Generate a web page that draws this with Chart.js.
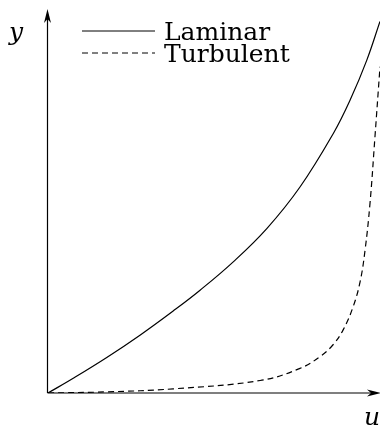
<!DOCTYPE html>
<html>
<head>
<meta charset="utf-8">
<script src="https://cdn.jsdelivr.net/npm/chart.js@4"></script>
<style>
  html, body { margin: 0; padding: 0; background: #fff; }
  canvas { display: block; }
</style>
</head>
<body>
<canvas id="chart" width="380" height="428"></canvas>
<script>
// series labels
const seriesNames = ['Laminar', 'Turbulent'];

// laminar profile (u, y)
const laminarU = [0, 0.076, 0.177, 0.277, 0.377, 0.458, 0.558, 0.659, 0.759, 0.859, 0.910, 0.960, 1.0];
const laminarY = [0, 0.039, 0.094, 0.153, 0.217, 0.272, 0.347, 0.435, 0.545, 0.686, 0.775, 0.880, 0.983];

// turbulent profile (u, y)
const turbulentU = [0, 0.178, 0.377, 0.639, 0.759, 0.819, 0.858, 0.889, 0.919, 0.940, 0.955, 0.970, 0.985, 1.0];
const turbulentY = [0, 0.003, 0.011, 0.033, 0.065, 0.096, 0.127, 0.167, 0.228, 0.294, 0.378, 0.503, 0.680, 0.863];

// axis labels
const xLabel = 'u';
const yLabel = 'y';

const toPoints = (xs, ys) => xs.map((x, i) => ({ x: x, y: ys[i] }));

const DASH = [6, 4];

// axes with arrow heads, axis names and the legend in the upper left
const axesPlugin = {
  id: 'axesPlugin',
  afterDraw(chart) {
    const ctx = chart.ctx;
    const a = chart.chartArea;
    const ox = a.left - 0.5;
    const oy = a.bottom;
    ctx.save();
    ctx.strokeStyle = '#000';
    ctx.fillStyle = '#000';
    ctx.lineWidth = 1.2;
    ctx.setLineDash([]);

    // y axis
    ctx.beginPath();
    ctx.moveTo(ox, oy);
    ctx.lineTo(ox, 14);
    ctx.stroke();
    ctx.beginPath();
    ctx.moveTo(ox, 9);
    ctx.lineTo(ox - 3.5, 23);
    ctx.lineTo(ox, 19);
    ctx.lineTo(ox + 3.5, 23);
    ctx.closePath();
    ctx.fill();

    // x axis
    ctx.beginPath();
    ctx.moveTo(ox, oy);
    ctx.lineTo(375, oy);
    ctx.stroke();
    ctx.beginPath();
    ctx.moveTo(381, oy);
    ctx.lineTo(367, oy - 3.5);
    ctx.lineTo(371, oy);
    ctx.lineTo(367, oy + 3.5);
    ctx.closePath();
    ctx.fill();

    // axis names
    ctx.font = 'italic 25px "DejaVu Serif"';
    ctx.textBaseline = 'alphabetic';
    ctx.textAlign = 'center';
    ctx.fillText(yLabel, 16, 40);
    ctx.fillText(xLabel, 372, 425);

    // legend
    const rows = [31, 53];
    ctx.font = '25px "DejaVu Serif"';
    ctx.textAlign = 'left';
    chart.data.datasets.forEach((ds, i) => {
      ctx.lineWidth = 1;
      ctx.setLineDash(ds.borderDash || []);
      ctx.beginPath();
      ctx.moveTo(82, rows[i]);
      ctx.lineTo(155, rows[i]);
      ctx.stroke();
      ctx.setLineDash([]);
      ctx.fillText(ds.label, 164, rows[i] + 9);
    });
    ctx.restore();
  }
};

new Chart(document.getElementById('chart'), {
  type: 'scatter',
  data: {
    datasets: [
      {
        label: seriesNames[0],
        data: toPoints(laminarU, laminarY),
        showLine: true,
        borderColor: '#000',
        borderWidth: 1.2,
        pointRadius: 0,
        tension: 0.4,
      },
      {
        label: seriesNames[1],
        data: toPoints(turbulentU, turbulentY),
        showLine: true,
        borderColor: '#000',
        borderWidth: 1.2,
        borderDash: DASH,
        pointRadius: 0,
        tension: 0.4,
      },
    ],
  },
  options: {
    responsive: false,
    animation: false,
    layout: { padding: { left: 48, right: 0, top: 15, bottom: 35 } },
    plugins: {
      legend: { display: false },
      tooltip: { enabled: false },
    },
    scales: {
      x: { type: 'linear', min: 0, max: 1, display: false },
      y: { type: 'linear', min: 0, max: 1, display: false },
    },
  },
  plugins: [axesPlugin],
});
</script>
</body>
</html>
